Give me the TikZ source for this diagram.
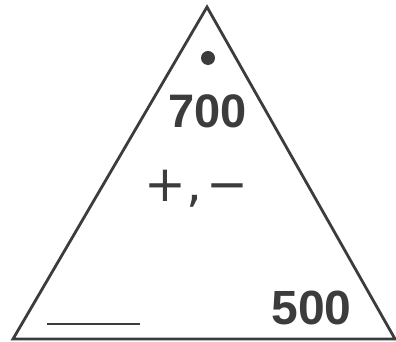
\documentclass[tikz,border=0pt]{standalone}
\usepackage{fontspec}
\setmainfont{Liberation Sans}
\newfontfamily\symfont{DejaVu Sans}
\usepackage{xcolor}
\usetikzlibrary{positioning}
\definecolor{inkgray}{RGB}{60,60,60}

\begin{document}
\begin{tikzpicture}[x=1pt, y=1pt]
    \useasboundingbox (0,0) rectangle (396,342);
    % triangle
    \coordinate (T) at (207,335);
    \coordinate (L) at (13,3);
    \coordinate (R) at (395,3);
    \draw[inkgray, line width=2.8pt, line join=miter] (T) -- (L) -- (R) -- cycle;
    % dot and labels
    \node[circle, fill=inkgray, inner sep=0pt, minimum size=14pt] (dot) at (208,284) {};
    \node[inner sep=0pt, text=inkgray, font=\fontsize{47}{47}\selectfont\bfseries]
          (top) at (207.5,230.5) {700};
    \node[inner sep=0pt, text=inkgray, anchor=base, font=\fontsize{50}{50}\selectfont\symfont]
          (ops) at (196.5,140) {+,\kern5pt−};
    \node[inner sep=0pt, text=inkgray, font=\fontsize{48}{48}\selectfont\bfseries]
          (right) at (311.5,34.5) {500};
    % blank
    \coordinate (b1) at (47,18);
    \coordinate (b2) at (140,18);
    \draw[inkgray, line width=1.2pt] (b1) -- (b2);
\end{tikzpicture}
\end{document}
